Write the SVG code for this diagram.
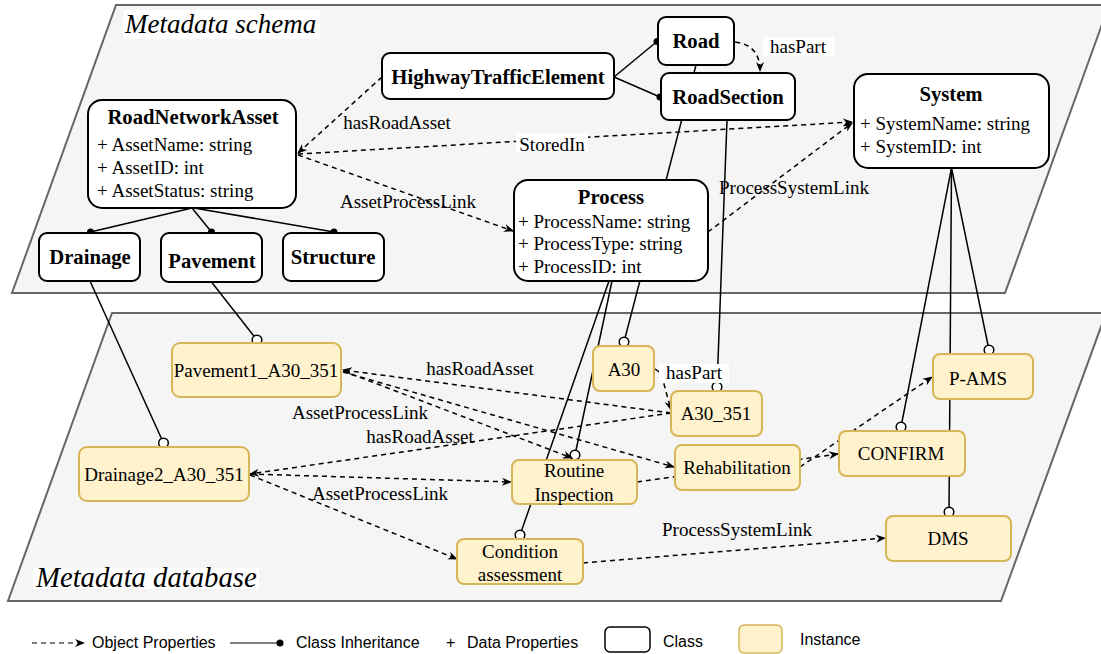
<svg xmlns="http://www.w3.org/2000/svg" width="1101" height="654" viewBox="0 0 1101 654">
<style>
.bg{fill:#f5f5f5;stroke:#666;stroke-width:2}
.cls{fill:#fff;stroke:#000;stroke-width:2}
.ins{fill:#fff2cc;stroke:#d6b656;stroke-width:2}
.t{font-family:'Liberation Serif','Times New Roman',serif;font-size:19px;fill:#000}
.b{font-weight:bold;font-size:20.7px}
.m{text-anchor:middle}
.it{font-style:italic;font-size:27px}
.c{fill:none;stroke:#000;stroke-width:1.5}
.d{stroke-dasharray:5 4}
.lg{font-family:'Liberation Sans',Arial,sans-serif;font-size:16px;fill:#000}
.wb{fill:#fff}
</style>
<defs>
<marker id="arr" viewBox="0 0 10 10" refX="9" refY="5" markerWidth="10" markerHeight="10" markerUnits="userSpaceOnUse" orient="auto"><path d="M0,1 L10,5 L0,9 L3,5 z" fill="#000"/></marker>
<marker id="dot" viewBox="-4 -4 8 8" refX="0" refY="0" markerWidth="8" markerHeight="8" markerUnits="userSpaceOnUse"><circle r="3.5" fill="#000"/></marker>
<marker id="oc" viewBox="-6 -6 12 12" refX="0" refY="0" markerWidth="12" markerHeight="12" markerUnits="userSpaceOnUse"><circle r="4.8" fill="#fff" stroke="#000" stroke-width="1.5"/></marker>
</defs>
<rect width="1101" height="654" fill="#fff"/>
<g id="layers">
<polygon class="bg" points="116,5 1109,5 1005,293 12,293"/>
<polygon class="bg" points="112,313 1106,313 1001,601 8,601"/>
<rect class="wb" x="123" y="10" width="197" height="29"/>
<text class="t it" x="125" y="33">Metadata schema</text>
<rect class="wb" x="33" y="568" width="226" height="21"/>
<text class="t it" x="36" y="587" style="font-size:28.7px">Metadata database</text>
</g>
<g id="connectors">
<!-- class inheritance in schema -->
<path class="c" d="M192,208 L90.5,232" marker-end="url(#dot)"/>
<path class="c" d="M192,208 L211.5,232" marker-end="url(#dot)"/>
<path class="c" d="M194,208 L334,232" marker-end="url(#dot)"/>
<path class="c" d="M614,77 L657,41.5" marker-end="url(#dot)"/>
<path class="c" d="M614,77 L660,97" marker-end="url(#dot)"/>
<!-- instance links -->
<path class="c" d="M90,281 L163.5,443" marker-end="url(#oc)"/>
<path class="c" d="M211.5,282 L257,340" marker-end="url(#oc)"/>
<path class="c" d="M696,65 L624,342" marker-end="url(#oc)"/>
<path class="c" d="M727,120 L717,387" marker-end="url(#oc)"/>
<path class="c" d="M612,281 L575,455" marker-end="url(#oc)"/>
<path class="c" d="M609,281 L520,535" marker-end="url(#oc)"/>
<path class="c" d="M951.5,168 L901,427" marker-end="url(#oc)"/>
<path class="c" d="M951.5,168 L989,350" marker-end="url(#oc)"/>
<path class="c" d="M951.5,168 L949,512" marker-end="url(#oc)"/>
<!-- object properties schema -->
<path class="c d" d="M382,77 L298,153" marker-end="url(#arr)"/>
<path class="c d" d="M298,154 L852,122" marker-end="url(#arr)"/>
<path class="c d" d="M298,155 L513,231" marker-end="url(#arr)"/>
<path class="c d" d="M735,42 Q760,45 760,71" marker-end="url(#arr)"/>
<path class="c d" d="M708,232 L852,123" marker-end="url(#arr)"/>
<!-- object properties database -->
<path class="c d" d="M671,413 L343,370" marker-end="url(#arr)"/>
<path class="c d" d="M343,371 L572,458" marker-end="url(#arr)"/>
<path class="c d" d="M343,372 L674,467" marker-end="url(#arr)"/>
<path class="c d" d="M671,413 L250,474" marker-end="url(#arr)"/>
<path class="c d" d="M250,474 L511,482" marker-end="url(#arr)"/>
<path class="c d" d="M250,475 L457,559" marker-end="url(#arr)"/>
<path class="c d" d="M655,369 L661,373 L671,410" marker-end="url(#arr)"/>
<path class="c d" d="M637,482 L838,454" marker-end="url(#arr)"/>
<path class="c d" d="M800,467 L932,377" marker-end="url(#arr)"/>
<path class="c d" d="M583,563 L885,538" marker-end="url(#arr)"/>
<!-- labels -->
<text class="t m" x="397" y="129">hasRoadAsset</text>
<rect class="wb" x="516" y="133" width="72" height="19"/>
<text class="t m" x="552" y="151">StoredIn</text>
<text class="t m" x="408" y="208">AssetProcessLink</text>
<rect class="wb" x="763" y="37" width="71" height="19"/>
<text class="t m" x="798" y="53">hasPart</text>
<text class="t m" x="794" y="194">ProcessSystemLink</text>
<text class="t m" x="480" y="375">hasRoadAsset</text>
<text class="t m" x="360" y="419">AssetProcessLink</text>
<text class="t m" x="420" y="443">hasRoadAsset</text>
<text class="t m" x="380" y="500">AssetProcessLink</text>
<rect class="wb" x="659" y="364" width="70" height="19"/>
<text class="t m" x="694" y="379">hasPart</text>
<text class="t m" x="737" y="536">ProcessSystemLink</text>
</g>
<g id="HighwayTrafficElement"><rect class="cls" x="382" y="53" width="232" height="46" rx="8"/><text class="t b m" x="498" y="84">HighwayTrafficElement</text></g>
<g id="Road"><rect class="cls" x="658" y="17" width="76" height="48" rx="8"/><text class="t b m" x="696" y="48">Road</text></g>
<g id="RoadSection"><rect class="cls" x="661" y="73" width="134" height="47" rx="8"/><text class="t b m" x="728" y="104">RoadSection</text></g>
<g id="RoadNetworkAsset"><rect class="cls" x="88" y="100" width="208" height="108" rx="14"/><text class="t b m" x="193" y="124">RoadNetworkAsset</text><text class="t" x="97" y="151">+ AssetName: string</text><text class="t" x="97" y="174">+ AssetID: int</text><text class="t" x="97" y="197">+ AssetStatus: string</text></g>
<g id="Drainage"><rect class="cls" x="39" y="233" width="101" height="48" rx="8"/><text class="t b m" x="90" y="264">Drainage</text></g>
<g id="Pavement"><rect class="cls" x="161" y="233" width="101" height="49" rx="8"/><text class="t b m" x="212" y="268">Pavement</text></g>
<g id="Structure"><rect class="cls" x="283" y="233" width="101" height="48" rx="8"/><text class="t b m" x="333" y="264">Structure</text></g>
<g id="Process"><rect class="cls" x="514" y="180" width="194" height="101" rx="14"/><text class="t b m" x="611" y="204">Process</text><text class="t" x="518" y="228">+ ProcessName: string</text><text class="t" x="518" y="250">+ ProcessType: string</text><text class="t" x="518" y="273">+ ProcessID: int</text></g>
<g id="System"><rect class="cls" x="854" y="74" width="195" height="94" rx="14"/><text class="t b m" x="951" y="101">System</text><text class="t" x="860" y="130">+ SystemName: string</text><text class="t" x="860" y="153">+ SystemID: int</text></g>
<g id="Pavement1_A30_351"><rect class="ins" x="172" y="343" width="169" height="54" rx="8"/><text class="t m" x="256" y="377">Pavement1_A30_351</text></g>
<g id="Drainage2_A30_351"><rect class="ins" x="79" y="447" width="170" height="54" rx="8"/><text class="t m" x="164" y="481">Drainage2_A30_351</text></g>
<g id="A30"><rect class="ins" x="593" y="346" width="61" height="45" rx="7"/><text class="t m" x="624" y="376">A30</text></g>
<g id="A30_351"><rect class="ins" x="671" y="391" width="91" height="45" rx="7"/><text class="t m" x="716" y="420">A30_351</text></g>
<g id="RoutineInspection"><rect class="ins" x="512" y="460" width="125" height="44" rx="7"/><text class="t m" x="574" y="477">Routine</text><text class="t m" x="574" y="501">Inspection</text></g>
<g id="Rehabilitation"><rect class="ins" x="675" y="445" width="125" height="45" rx="7"/><text class="t m" x="737" y="474">Rehabilitation</text></g>
<g id="ConditionAssessment"><rect class="ins" x="457" y="539" width="126" height="45" rx="7"/><text class="t m" x="520" y="558">Condition</text><text class="t m" x="520" y="581">assessment</text></g>
<g id="CONFIRM"><rect class="ins" x="839" y="431" width="126" height="45" rx="7"/><text class="t m" x="901" y="460">CONFIRM</text></g>
<g id="P-AMS"><rect class="ins" x="933" y="354" width="100" height="45" rx="7"/><text class="t m" x="978" y="385">P-AMS</text></g>
<g id="DMS"><rect class="ins" x="886" y="516" width="125" height="45" rx="7"/><text class="t m" x="948" y="545">DMS</text></g>
<g id="legend">
<path class="c d" d="M32,643 L84,643" marker-end="url(#arr)" style="stroke-width:1.2"/>
<text class="lg" x="92" y="648">Object Properties</text>
<path class="c" d="M230,643 L280,643" marker-end="url(#dot)" style="stroke-width:1.2"/>
<text class="lg" x="296" y="648">Class Inheritance</text>
<text class="lg" x="446" y="648">+</text>
<text class="lg" x="467" y="648">Data Properties</text>
<rect x="605" y="627" width="45" height="25" rx="5" fill="#fff" stroke="#000" stroke-width="1.5"/>
<text class="lg" x="663" y="647">Class</text>
<rect x="739" y="625" width="43" height="28" rx="5" fill="#fff2cc" stroke="#d6b656" stroke-width="1.5"/>
<text class="lg" x="800" y="645">Instance</text>
</g>
</svg>
